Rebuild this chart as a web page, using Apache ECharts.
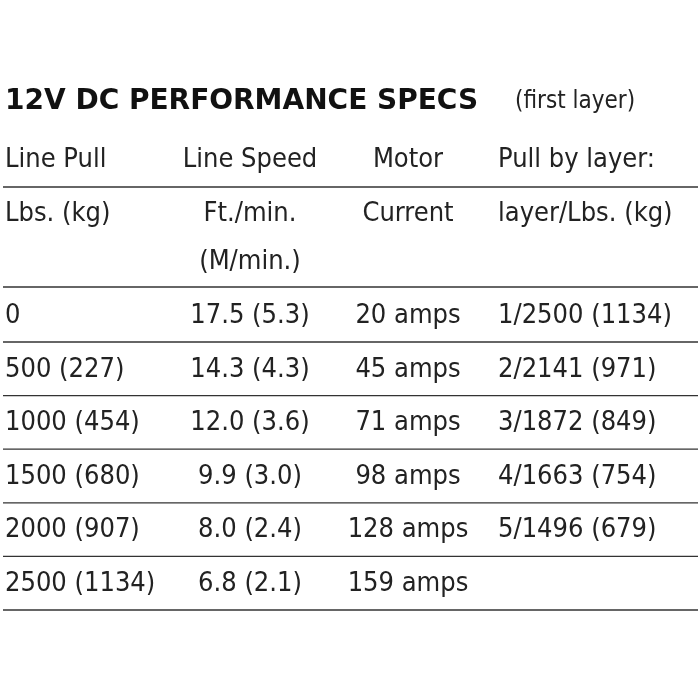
<!DOCTYPE html>
<html>
<head>
<meta charset="utf-8">
<script src="https://cdn.jsdelivr.net/npm/echarts@6/dist/echarts.min.js"></script>
<style>html,body{margin:0;background:#fff}#container{width:700px;height:700px}</style>
</head>
<body>
<div id="container"></div>
<script>
var title = '12V DC PERFORMANCE SPECS';
var subtitle = '(first layer)';
var headers = [
    ['Line Pull', 'Line Speed', 'Motor', 'Pull by layer:'],
    ['Lbs. (kg)', 'Ft./min.', 'Current', 'layer/Lbs. (kg)'],
    ['', '(M/min.)', '', '']
];
var linePull = ['0', '500 (227)', '1000 (454)', '1500 (680)', '2000 (907)', '2500 (1134)'];
var lineSpeed = ['17.5 (5.3)', '14.3 (4.3)', '12.0 (3.6)', '9.9 (3.0)', '8.0 (2.4)', '6.8 (2.1)'];
var motorCurrent = ['20 amps', '45 amps', '71 amps', '98 amps', '128 amps', '159 amps'];
var pullByLayer = ['1/2500 (1134)', '2/2141 (971)', '3/1872 (849)', '4/1663 (754)', '5/1496 (679)', ''];

var myChart = echarts.init(document.getElementById('container'));
var font = '"Liberation Sans Narrow", "DejaVu Sans Condensed", sans-serif';
var colX = [5, 250, 408, 498];
var colAlign = ['left', 'center', 'center', 'left'];
var elements = [];

function txt(x, y, s, align, style) {
    elements.push({
        type: 'text', x: x, y: y,
        style: Object.assign({
            text: s, align: align, verticalAlign: 'middle',
            fill: '#222', font: '27px ' + font
        }, style || {})
    });
}
function hline(y) {
    elements.push({
        type: 'line',
        shape: { x1: 3, y1: y, x2: 698, y2: y },
        style: { stroke: '#333', lineWidth: 1.3 }
    });
}

txt(5, 102, title, 'left', { font: 'bold 28px "DejaVu Sans", sans-serif', fill: '#111' });
txt(515, 102, subtitle, 'left', { font: '24px ' + font });

var headerY = [160, 214, 262];
headers.forEach(function (row, r) {
    row.forEach(function (s, c) {
        if (s) txt(colX[c], headerY[r], s, colAlign[c]);
    });
});
hline(187);
hline(287);

var rowY0 = 316, rowH = 53.6;
linePull.forEach(function (v, i) {
    var y = rowY0 + i * rowH;
    var cells = [linePull[i], lineSpeed[i], motorCurrent[i], pullByLayer[i]];
    cells.forEach(function (s, c) {
        if (s) txt(colX[c], y, s, colAlign[c]);
    });
    hline(y + 26);
});

option = {
    backgroundColor: '#fff',
    graphic: { elements: elements }
};
myChart.setOption(option, true);
window.onresize = function () { myChart.resize(); };
</script>
</body>
</html>
